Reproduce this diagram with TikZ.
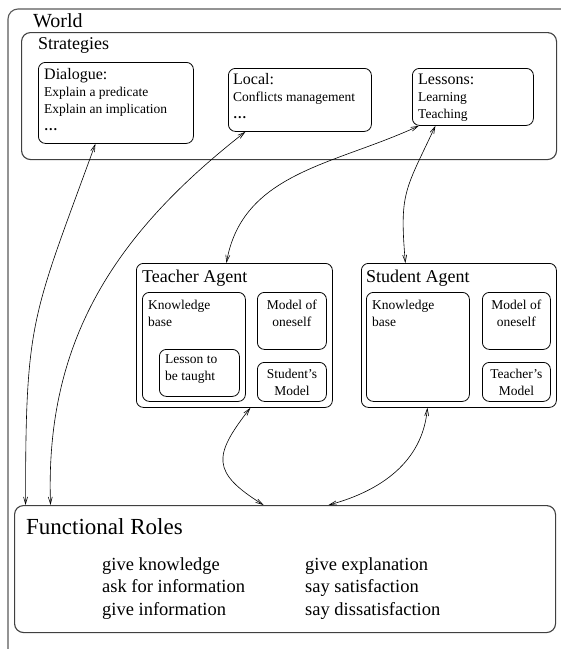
\documentclass[tikz,border=0pt]{standalone}
\usepackage{fontspec}
\setmainfont{Liberation Serif}
\usetikzlibrary{positioning, arrows.meta}

\begin{document}
\begin{tikzpicture}[x=1pt, y=1pt,
  frame/.style={draw=black!65, line width=1.1pt, rounded corners=10pt},
  box/.style={draw, line width=0.8pt, rounded corners=7pt, anchor=north west,
    inner sep=0pt},
  bigbox/.style={box, draw=black!75, line width=1.1pt, rounded corners=9pt},
  txt/.style={anchor=base west, inner sep=0pt, align=left,
    font=\fontsize{13.5}{17}\selectfont},
  ctxt/.style={anchor=base, inner sep=0pt, align=center,
    font=\fontsize{13.5}{17}\selectfont},
  title/.style={anchor=base west, inner sep=0pt, font=\fontsize{18}{20}\selectfont},
  link/.style={{Straight Barb[length=7pt,width=4pt]}-{Straight Barb[length=7pt,width=4pt]},
    line width=0.6pt}
]
  \useasboundingbox (0,0) rectangle (561,-649);
  % World
  \draw[frame] (8,-660) |- (575,-9);
  \node[title, font=\fontsize{20}{22}\selectfont] (worldlbl) at (33,-27) {World};

  % Strategies (text nodes sit on their last baseline)
  \node[bigbox, minimum width=535pt, minimum height=127pt] (strat) at (21,-32) {};
  \node[title] (stratlbl) at ([shift={(17,-17)}]strat.north west) {Strategies};
  \node[box, minimum width=155pt, minimum height=81pt] (dlg) at (38,-62) {};
  \node[box, minimum width=143pt, minimum height=63pt] (loc) at (228,-68) {};
  \node[box, minimum width=121pt, minimum height=57pt] (less) at (412,-68) {};
  \node[txt] (dlglbl) at ([shift={(6,-68)}]dlg.north west)
    {{\fontsize{16}{17}\selectfont Dialogue:}\\Explain a predicate\\Explain an implication\\\textbf{\dots}};
  \node[txt] (loclbl) at ([shift={(5,-50)}]loc.north west)
    {{\fontsize{16}{17}\selectfont Local:}\\Conflicts management\\\textbf{\dots}};
  \node[txt] (lesslbl) at ([shift={(6,-50)}]less.north west)
    {{\fontsize{16}{17}\selectfont Lessons:}\\Learning\\Teaching};

  % Teacher agent
  \node[box, minimum width=196pt, minimum height=144pt] (teach) at (136,-263) {};
  \node[title] (teachlbl) at ([shift={(6,-19)}]teach.north west) {Teacher Agent};
  \node[box, minimum width=103pt, minimum height=109pt] (tkb) at (142,-292) {};
  \node[box, minimum width=80pt, minimum height=47pt] (tles) at (159,-349) {};
  \node[box, minimum width=69pt, minimum height=57pt] (tself) at (257,-292) {};
  \node[box, minimum width=69pt, minimum height=39pt] (tstu) at (257,-362) {};
  \node[txt] at ([shift={(6,-34)}]tkb.north west) {Knowledge\\base};
  \node[txt] at ([shift={(6,-31)}]tles.north west) {Lesson to\\be taught};
  \node[ctxt] at ([yshift=-34pt]tself.north) {Model of\\oneself};
  \node[ctxt] at ([yshift=-33pt]tstu.north) {Student's\\Model};

  % Student agent
  \node[box, minimum width=195pt, minimum height=144pt] (stud) at (361,-263) {};
  \node[title] (studlbl) at ([shift={(5,-19)}]stud.north west) {Student Agent};
  \node[box, minimum width=103pt, minimum height=109pt] (skb) at (366,-292) {};
  \node[box, minimum width=68pt, minimum height=57pt] (sself) at (482,-292) {};
  \node[box, minimum width=68pt, minimum height=39pt] (steach) at (482,-362) {};
  \node[txt] at ([shift={(6,-34)}]skb.north west) {Knowledge\\base};
  \node[ctxt] at ([yshift=-34pt]sself.north) {Model of\\oneself};
  \node[ctxt] at ([yshift=-33pt]steach.north) {Teacher's\\Model};

  % Functional roles
  \node[bigbox, minimum width=541pt, minimum height=127pt] (roles) at (14,-505) {};
  \node[title, font=\fontsize{23}{25}\selectfont] (roleslbl) at ([shift={(12,-29)}]roles.north west) {Functional Roles};
  \node[txt, font=\fontsize{18.5}{22.5}\selectfont] (rolesa) at ([shift={(88,-110)}]roles.north west)
    {give knowledge\\ask for information\\give information};
  \node[txt, font=\fontsize{18.5}{22.5}\selectfont] (rolesb) at ([shift={(291,-110)}]roles.north west)
    {give explanation\\say satisfaction\\say dissatisfaction};

  % Links
  \draw[link] ([xshift=-20.5pt]dlg.south) to[out=250, in=90, looseness=1.3] ([xshift=-259.5pt]roles.north);
  \draw[link] ([xshift=-54.5pt]loc.south) to[out=218, in=92] ([xshift=-234.5pt]roles.north);
  \draw[link] ([xshift=-54pt]less.south) to[out=205, in=80] ([xshift=-8pt]teach.north);
  \draw[link] ([xshift=-37.5pt]less.south) to[out=245, in=95, looseness=1.3] ([xshift=-53.5pt]stud.north);
  \draw[link] ([xshift=16pt]teach.south) to[out=232, in=148, looseness=1.6] ([xshift=-21.5pt]roles.north);
  \draw[link] ([xshift=-31.5pt]stud.south) to[out=265, in=15] ([xshift=43.5pt]roles.north);
\end{tikzpicture}
\end{document}
